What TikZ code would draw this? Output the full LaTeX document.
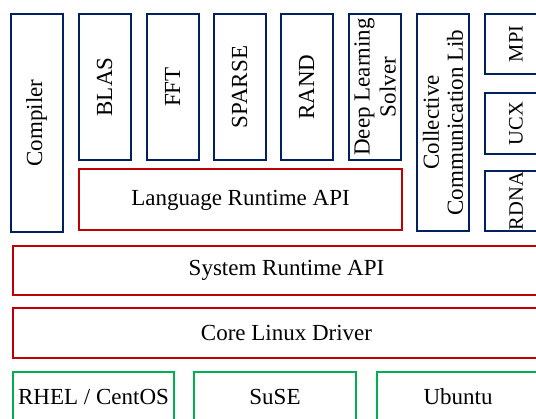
\documentclass[tikz,border=0pt]{standalone}
\usepackage{fontspec}
\setmainfont{Liberation Serif}
\definecolor{stacknavy}{RGB}{0,32,96}
\definecolor{stackred}{RGB}{192,0,0}
\definecolor{stackgreen}{RGB}{0,176,80}

\begin{document}
\begin{tikzpicture}[x=1pt, y=-1pt,
    layer/.style={draw, line width=2pt, inner sep=0pt, align=center, font=\fontsize{23}{24}\selectfont},
    libbox/.style={layer, draw=stacknavy, rotate=90},
    commbox/.style={libbox, font=\fontsize{20.5}{22}\selectfont, minimum width=60pt, minimum height=62pt},
    apibox/.style={layer, draw=stackred},
    osbox/.style={layer, draw=stackgreen, minimum width=162pt, minimum height=50pt}
]
    \useasboundingbox (0,0) rectangle (536,419);

    % Libraries (rotated, so width is the vertical extent)
    \node[libbox, minimum width=218pt, minimum height=52pt] (compiler) at (36.5,123) {Compiler};
    \foreach \x/\name/\txt in {104.5/blas/BLAS, 172.5/fft/FFT, 239.5/sparse/SPARSE, 306.5/rand/RAND} {
        \node[libbox, minimum width=146pt, minimum height=52pt] (\name) at (\x,87) {\txt};
    }
    \node[libbox, minimum width=146pt, minimum height=52pt, font=\fontsize{23}{26}\selectfont] (dls) at (375,87) {Deep Learning\\Solver};
    \node[libbox, minimum width=217pt, minimum height=52pt] (collective) at (443,122.5) {Collective\\Communication Lib};

    % Communication backends
    \node[commbox] (mpi) at (516,44) {MPI};
    \node[commbox, minimum width=61pt] (ucx) at (516,123.5) {UCX};
    \node[commbox] (rdna) at (516,201) {RDNA};

    % Runtime layers
    \node[apibox, minimum width=323pt, minimum height=61pt] (langrt) at (240.5,200) {Language Runtime API};
    \node[apibox, minimum width=547pt, minimum height=49pt] (sysrt) at (286.5,270.5) {System Runtime API};
    \node[apibox, minimum width=547pt, minimum height=50pt] (driver) at (286.5,333) {Core Linux Driver};

    % Operating systems
    \node[osbox, minimum width=161pt] (rhel) at (93.5,397) {RHEL / CentOS};
    \node[osbox] (suse) at (275,397) {SuSE};
    \node[osbox] (ubuntu) at (458,397) {Ubuntu};
\end{tikzpicture}
\end{document}
